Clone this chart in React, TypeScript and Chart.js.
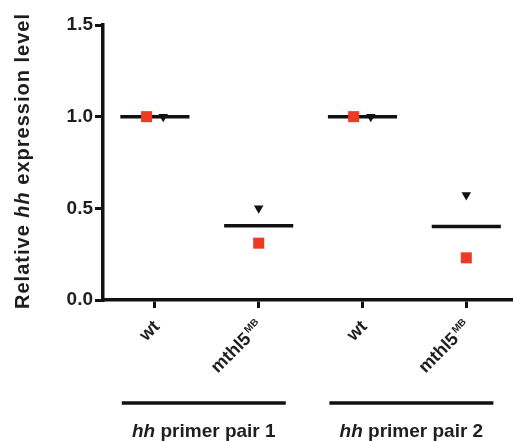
import React, { useEffect, useRef } from 'react';
import { Chart, registerables } from 'chart.js';

Chart.register(...registerables);

// ---- data ----
const categories = ['wt', 'mthl5', 'wt', 'mthl5'];
const categorySuperscripts = ['', 'MB', '', 'MB'];
const groupGene = 'hh';
const groupLabels = [' primer pair 1', ' primer pair 2'];
const groupCenters = [1.5, 3.5];
const redSquareValues = [1.0, 0.31, 1.0, 0.23];
const blackTriangleValues = [1.0, 0.5, 1.0, 0.573];
const squareJitter = [-0.08, 0, -0.085, 0];
const triangleJitter = [0.08, 0, 0.08, 0];
const yTicks = [0, 0.5, 1.0, 1.5];
const yTitleParts = [
  { text: 'Relative ', italic: false },
  { text: 'hh', italic: true },
  { text: ' expression level', italic: false },
];

const FONT = '"Liberation Sans", Arial, sans-serif';
const TEXT = '#1e1e1e';

const labelPlugin = {
  id: 'customLabels',
  afterDraw(chart: any) {
    const ctx = chart.ctx as CanvasRenderingContext2D;
    const xs = chart.scales.x;
    const area = chart.chartArea;

    // rotated category labels
    categories.forEach((cat, i) => {
      const px = xs.getPixelForValue(i + 1);
      ctx.save();
      ctx.translate(px + 2, area.bottom + 24);
      ctx.rotate(-Math.PI / 4);
      ctx.fillStyle = TEXT;
      ctx.textBaseline = 'middle';
      ctx.textAlign = 'left';
      ctx.font = `bold 18px ${FONT}`;
      const mainW = ctx.measureText(cat).width;
      const sup = categorySuperscripts[i];
      ctx.font = `bold 10px ${FONT}`;
      const supW = sup ? ctx.measureText(sup).width + 2 : 0;
      const start = -(mainW + supW);
      ctx.font = `bold 18px ${FONT}`;
      ctx.fillText(cat, start, 0);
      if (sup) {
        ctx.font = `bold 10px ${FONT}`;
        ctx.fillText(sup, start + mainW + 2, -5);
      }
      ctx.restore();
    });

    // group brackets and labels
    groupCenters.forEach((c, g) => {
      const cx = xs.getPixelForValue(c) - 3;
      ctx.save();
      ctx.strokeStyle = '#111';
      ctx.lineWidth = 3.5;
      ctx.beginPath();
      ctx.moveTo(cx - 82, 403);
      ctx.lineTo(cx + 82, 403);
      ctx.stroke();
      ctx.fillStyle = TEXT;
      ctx.textBaseline = 'middle';
      ctx.textAlign = 'left';
      ctx.font = `italic bold 19px ${FONT}`;
      const gw = ctx.measureText(groupGene).width;
      ctx.font = `bold 19px ${FONT}`;
      const lw = ctx.measureText(groupLabels[g]).width;
      const x0 = cx - (gw + lw) / 2;
      ctx.font = `italic bold 19px ${FONT}`;
      ctx.fillText(groupGene, x0, 432);
      ctx.font = `bold 19px ${FONT}`;
      ctx.fillText(groupLabels[g], x0 + gw, 432);
      ctx.restore();
    });

    // y axis title
    ctx.save();
    ctx.translate(23, 161);
    ctx.rotate(-Math.PI / 2);
    ctx.fillStyle = TEXT;
    ctx.textBaseline = 'middle';
    ctx.textAlign = 'left';
    (ctx as any).letterSpacing = '1px';
    let total = 0;
    const widths = yTitleParts.map((p) => {
      ctx.font = `${p.italic ? 'italic ' : ''}bold 20px ${FONT}`;
      const w = ctx.measureText(p.text).width;
      total += w;
      return w;
    });
    let x = -total / 2;
    yTitleParts.forEach((p, i) => {
      ctx.font = `${p.italic ? 'italic ' : ''}bold 20px ${FONT}`;
      ctx.fillText(p.text, x, 0);
      x += widths[i];
    });
    ctx.restore();
  },
};

export default function App() {
  const ref = useRef<HTMLCanvasElement>(null);

  useEffect(() => {
    if (!ref.current) return;
    const meanDatasets = categories.map((_, i) => {
      const m = (redSquareValues[i] + blackTriangleValues[i]) / 2;
      return {
        type: 'line' as const,
        data: [
          { x: i + 1 - 0.333, y: m },
          { x: i + 1 + 0.333, y: m },
        ],
        borderColor: '#111',
        borderWidth: 3.5,
        pointRadius: 0,
        showLine: true,
        fill: false,
        order: 3,
      };
    });
    const chart = new Chart(ref.current, {
      type: 'scatter',
      data: {
        datasets: [
          ...meanDatasets,
          {
            data: redSquareValues.map((v, i) => ({ x: i + 1 + squareJitter[i], y: v })),
            pointStyle: 'rect',
            pointRadius: 7.8,
            backgroundColor: '#ec3a24',
            borderColor: '#ec3a24',
            borderWidth: 0,
            order: 2,
          } as any,
          {
            data: blackTriangleValues.map((v, i) => ({ x: i + 1 + triangleJitter[i], y: v })),
            pointStyle: 'triangle',
            rotation: 180,
            pointRadius: 5.5,
            backgroundColor: '#111',
            borderColor: '#111',
            borderWidth: 0,
            order: 1,
          } as any,
        ],
      },
      options: {
        responsive: false,
        animation: false,
        layout: { autoPadding: false, padding: { top: 25, left: 0, right: 0, bottom: 0 } },
        plugins: {
          legend: { display: false },
          tooltip: { enabled: false },
          title: { display: false },
        },
        scales: {
          x: {
            type: 'linear',
            min: 0.5,
            max: 4.45,
            afterBuildTicks: (s: any) => {
              s.ticks = categories.map((_, i) => ({ value: i + 1 }));
            },
            afterFit: (s: any) => {
              s.height = 141;
              s.paddingLeft = 0;
              s.paddingRight = 0;
            },
            ticks: { callback: () => '', padding: 0, maxRotation: 0 },
            grid: {
              drawOnChartArea: false,
              drawTicks: true,
              tickLength: 8,
              color: '#111',
              lineWidth: 3,
            },
            border: { display: true, color: '#111', width: 3.5 },
          },
          y: {
            type: 'linear',
            min: 0,
            max: 1.5,
            afterBuildTicks: (s: any) => {
              s.ticks = yTicks.map((v) => ({ value: v }));
            },
            afterFit: (s: any) => {
              s.width = 103;
              s.paddingTop = 0;
              s.paddingBottom = 0;
            },
            ticks: {
              callback: (v: any) => Number(v).toFixed(1),
              font: { family: FONT, size: 19, weight: 'bold' },
              color: TEXT,
              padding: 2,
            },
            grid: {
              drawOnChartArea: false,
              drawTicks: true,
              tickLength: 8,
              color: '#111',
              lineWidth: 3,
            },
            border: { display: true, color: '#111', width: 3.5 },
          },
        },
      },
      plugins: [labelPlugin],
    });
    return () => chart.destroy();
  }, []);

  return (
    <div style={{ position: 'fixed', left: 0, top: 0, width: 513, height: 441, background: '#fff' }}>
      <canvas ref={ref} width={513} height={441} style={{ display: 'block' }} />
    </div>
  );
}
